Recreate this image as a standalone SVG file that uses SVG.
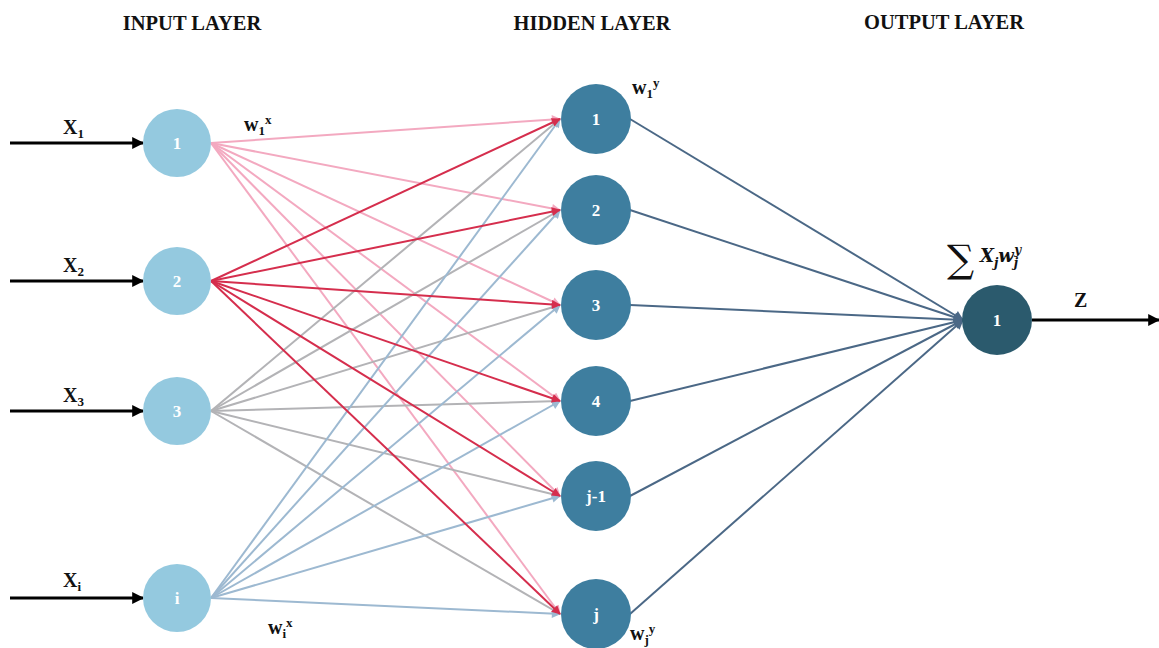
<svg xmlns="http://www.w3.org/2000/svg" width="1159" height="648" viewBox="0 0 1159 648">
  <style>
    .title { font-family: "Liberation Serif", serif; font-weight: bold; font-size: 20.5px; fill: #111; text-anchor: middle; }
    .lbl { font-family: "Liberation Serif", serif; font-weight: bold; font-size: 20px; fill: #111; }
    .num { font-family: "Liberation Serif", serif; font-weight: bold; font-size: 17px; fill: #fff; text-anchor: middle; dominant-baseline: central; }
    .in { fill: #94c9df; }
    .hid { fill: #3e7e9f; }
    .out { fill: #2b5a6d; }
    .e1 { stroke: #f3a9c0; stroke-width: 2; fill: none; marker-end: url(#aPink); }
    .e2 { stroke: #d52e4d; stroke-width: 2; fill: none; marker-end: url(#aRed); }
    .e3 { stroke: #b3b3b6; stroke-width: 2; fill: none; marker-end: url(#aGray); }
    .ei { stroke: #9db9d1; stroke-width: 2; fill: none; marker-end: url(#aBlue); }
    .eo { stroke: #4b6886; stroke-width: 2; fill: none; marker-end: url(#aDark); }
    .ext { stroke: #000; stroke-width: 3; fill: none; marker-end: url(#aBlack); }
  </style>
  <defs>
    <marker id="aPink" viewBox="0 0 10 10" refX="9" refY="5" markerWidth="10" markerHeight="9" markerUnits="userSpaceOnUse" orient="auto"><path d="M0,0 L10,5 L0,10 z" fill="#f3a9c0"/></marker>
    <marker id="aRed" viewBox="0 0 10 10" refX="9" refY="5" markerWidth="10" markerHeight="9" markerUnits="userSpaceOnUse" orient="auto"><path d="M0,0 L10,5 L0,10 z" fill="#d52e4d"/></marker>
    <marker id="aGray" viewBox="0 0 10 10" refX="9" refY="5" markerWidth="10" markerHeight="9" markerUnits="userSpaceOnUse" orient="auto"><path d="M0,0 L10,5 L0,10 z" fill="#b3b3b6"/></marker>
    <marker id="aBlue" viewBox="0 0 10 10" refX="9" refY="5" markerWidth="10" markerHeight="9" markerUnits="userSpaceOnUse" orient="auto"><path d="M0,0 L10,5 L0,10 z" fill="#9db9d1"/></marker>
    <marker id="aDark" viewBox="0 0 10 10" refX="9" refY="5" markerWidth="11" markerHeight="10" markerUnits="userSpaceOnUse" orient="auto"><path d="M0,0 L10,5 L0,10 z" fill="#4b6886"/></marker>
    <marker id="aBlack" viewBox="0 0 10 10" refX="9" refY="5" markerWidth="13" markerHeight="12" markerUnits="userSpaceOnUse" orient="auto"><path d="M0,0 L10,5 L0,10 z" fill="#000"/></marker>
  </defs>

  <rect width="1159" height="648" fill="#fff"/>

  <!-- layer titles -->
  <text class="title" x="192" y="30">INPUT LAYER</text>
  <text class="title" x="592" y="30">HIDDEN LAYER</text>
  <text class="title" x="944" y="29">OUTPUT LAYER</text>

  <g id="connectors">
    <!-- input 1 -> hidden -->
    <g>
      <line class="e1" x1="211" y1="143" x2="560" y2="119"/>
      <line class="e1" x1="211" y1="143" x2="560" y2="210"/>
      <line class="e1" x1="211" y1="143" x2="560" y2="305"/>
      <line class="e1" x1="211" y1="143" x2="560" y2="401"/>
      <line class="e1" x1="211" y1="143" x2="560" y2="496"/>
      <line class="e1" x1="211" y1="143" x2="560" y2="614"/>
    </g>
    <!-- input 3 -> hidden -->
    <g>
      <line class="e3" x1="211" y1="411" x2="560" y2="119"/>
      <line class="e3" x1="211" y1="411" x2="560" y2="210"/>
      <line class="e3" x1="211" y1="411" x2="560" y2="305"/>
      <line class="e3" x1="211" y1="411" x2="560" y2="401"/>
      <line class="e3" x1="211" y1="411" x2="560" y2="496"/>
      <line class="e3" x1="211" y1="411" x2="560" y2="614"/>
    </g>
    <!-- input i -> hidden -->
    <g>
      <line class="ei" x1="211" y1="598" x2="560" y2="119"/>
      <line class="ei" x1="211" y1="598" x2="560" y2="210"/>
      <line class="ei" x1="211" y1="598" x2="560" y2="305"/>
      <line class="ei" x1="211" y1="598" x2="560" y2="401"/>
      <line class="ei" x1="211" y1="598" x2="560" y2="496"/>
      <line class="ei" x1="211" y1="598" x2="560" y2="614"/>
    </g>
    <!-- input 2 -> hidden -->
    <g>
      <line class="e2" x1="211" y1="281" x2="560" y2="119"/>
      <line class="e2" x1="211" y1="281" x2="560" y2="210"/>
      <line class="e2" x1="211" y1="281" x2="560" y2="305"/>
      <line class="e2" x1="211" y1="281" x2="560" y2="401"/>
      <line class="e2" x1="211" y1="281" x2="560" y2="496"/>
      <line class="e2" x1="211" y1="281" x2="560" y2="614"/>
    </g>
    <!-- hidden -> output -->
    <g>
      <line class="eo" x1="630" y1="119" x2="963" y2="320"/>
      <line class="eo" x1="630" y1="210" x2="963" y2="320"/>
      <line class="eo" x1="630" y1="305" x2="963" y2="320"/>
      <line class="eo" x1="630" y1="401" x2="963" y2="320"/>
      <line class="eo" x1="630" y1="496" x2="963" y2="320"/>
      <line class="eo" x1="630" y1="614" x2="963" y2="320"/>
    </g>
    <!-- external inputs and output -->
    <line class="ext" x1="10" y1="143" x2="143" y2="143"/>
    <line class="ext" x1="10" y1="281" x2="143" y2="281"/>
    <line class="ext" x1="10" y1="411" x2="143" y2="411"/>
    <line class="ext" x1="10" y1="598" x2="143" y2="598"/>
    <line class="ext" x1="1032" y1="320" x2="1159" y2="320"/>
  </g>

  <!-- input labels -->
  <text class="lbl" x="63" y="134">X<tspan font-size="13" dy="4">1</tspan></text>
  <text class="lbl" x="63" y="272">X<tspan font-size="13" dy="4">2</tspan></text>
  <text class="lbl" x="63" y="402">X<tspan font-size="13" dy="4">3</tspan></text>
  <text class="lbl" x="63" y="587">X<tspan font-size="13" dy="4">i</tspan></text>

  <!-- weight labels -->
  <text class="lbl" x="244" y="131">w<tspan font-size="13" dy="4">1</tspan><tspan font-size="13" dy="-11">x</tspan></text>
  <text class="lbl" x="632" y="94">w<tspan font-size="13" dy="4">1</tspan><tspan font-size="13" dy="-11">y</tspan></text>
  <text class="lbl" x="268" y="634">w<tspan font-size="13" dy="4">i</tspan><tspan font-size="13" dy="-11">x</tspan></text>
  <text class="lbl" x="630" y="640">w<tspan font-size="13" dy="4">j</tspan><tspan font-size="13" dy="-11">y</tspan></text>

  <!-- output formula and label -->
  <text x="947" y="272" font-family="DejaVu Serif, serif" font-size="38" fill="#111">∑</text>
  <text x="980" y="262" font-family="DejaVu Serif, serif" font-style="italic" font-weight="bold" font-size="18" fill="#111">X<tspan font-size="12" dy="5">j</tspan><tspan dy="-5">w</tspan><tspan font-size="12" dy="5">j</tspan><tspan font-size="12" dx="-4" dy="-13">y</tspan></text>
  <text class="lbl" x="1074" y="307">Z</text>

  <!-- input layer -->
  <g id="in1"><circle class="in" cx="177" cy="143" r="34"/><text class="num" x="177" y="143">1</text></g>
  <g id="in2"><circle class="in" cx="177" cy="281" r="34"/><text class="num" x="177" y="281">2</text></g>
  <g id="in3"><circle class="in" cx="177" cy="411" r="34"/><text class="num" x="177" y="411">3</text></g>
  <g id="inI"><circle class="in" cx="177" cy="598" r="34"/><text class="num" x="177" y="598">i</text></g>

  <!-- hidden layer -->
  <g id="h1"><circle class="hid" cx="596" cy="119" r="35"/><text class="num" x="596" y="119">1</text></g>
  <g id="h2"><circle class="hid" cx="596" cy="210" r="35"/><text class="num" x="596" y="210">2</text></g>
  <g id="h3"><circle class="hid" cx="596" cy="305" r="35"/><text class="num" x="596" y="305">3</text></g>
  <g id="h4"><circle class="hid" cx="596" cy="401" r="35"/><text class="num" x="596" y="401">4</text></g>
  <g id="hJm1"><circle class="hid" cx="596" cy="496" r="35"/><text class="num" x="596" y="496">j-1</text></g>
  <g id="hJ"><circle class="hid" cx="596" cy="614" r="35"/><text class="num" x="596" y="614">j</text></g>

  <!-- output layer -->
  <g id="o1"><circle class="out" cx="997" cy="320" r="35"/><text class="num" x="997" y="320">1</text></g>
</svg>
